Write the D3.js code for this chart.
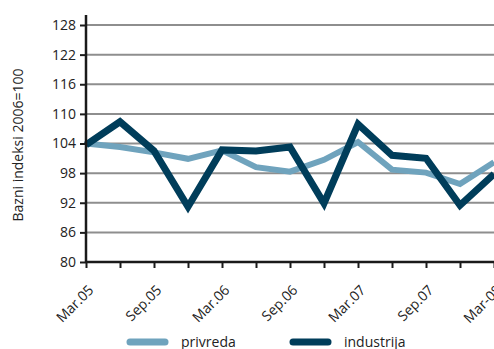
<!DOCTYPE html>
<html>
<head>
<meta charset="utf-8">
<script src="https://cdn.jsdelivr.net/npm/d3@7"></script>
<style>
  body { margin: 0; background: #fff; }
  svg { display: block; font-family: "Open Sans", sans-serif; }
</style>
</head>
<body>
<svg width="494" height="349"></svg>
<script>
var quarters = ["Mar.05", "Jun.05", "Sep.05", "Dec.05", "Mar.06", "Jun.06", "Sep.06",
                "Dec.06", "Mar.07", "Jun.07", "Sep.07", "Dec.07", "Mar-08"];
var tickLabels = ["Mar.05", "Sep.05", "Mar.06", "Sep.06", "Mar.07", "Sep.07", "Mar-08"];
var privreda = [104, 103.3, 102.2, 100.9, 102.6, 99.2, 98.3, 100.7, 104.3, 98.7, 98.1, 95.8, 100.2];
var industrija = [103.7, 108.4, 102.5, 91.2, 102.7, 102.5, 103.3, 91.9, 107.9, 101.6, 101, 91.5, 97.8];
var yTicks = [80, 86, 92, 98, 104, 110, 116, 122, 128];

var svg = d3.select("svg"),
    x0 = 86, x1 = 494, yTop = 25, yBottom = 262;

var x = d3.scalePoint()
    .domain(quarters)
    .range([x0, x1]);

var y = d3.scaleLinear()
    .domain([80, 128])
    .range([yBottom, yTop]);

// grid
svg.append("g")
  .selectAll("line")
    .data(yTicks.slice(1))
  .enter().append("line")
    .attr("x1", x0).attr("x2", x1)
    .attr("y1", function(d) { return y(d); })
    .attr("y2", function(d) { return y(d); })
    .style("stroke", "#8e8e8e")
    .style("stroke-width", 2);

var line = d3.line()
    .x(function(d, i) { return x(quarters[i]); })
    .y(function(d) { return y(d); });

svg.append("path")
    .datum(privreda)
    .attr("d", line)
    .style("fill", "none")
    .style("stroke", "#6fa3bd")
    .style("stroke-width", 6)
    .style("stroke-linejoin", "miter");

svg.append("path")
    .datum(industrija)
    .attr("d", line)
    .style("fill", "none")
    .style("stroke", "#003d5a")
    .style("stroke-width", 7)
    .style("stroke-linejoin", "miter");

// y axis
var yAxis = svg.append("g")
    .attr("transform", "translate(" + x0 + ",0)")
    .call(d3.axisLeft(y).tickValues(yTicks).tickSize(6).tickPadding(4));

yAxis.select(".domain").attr("d", "M0," + (yTop - 10) + "V" + yBottom)
    .style("stroke", "#1a1a1a").style("stroke-width", 2.5);

// x axis
var xAxis = svg.append("g")
    .attr("transform", "translate(0," + yBottom + ")")
    .call(d3.axisBottom(x).tickSize(6).tickFormat(function(d) {
      return tickLabels.indexOf(d) >= 0 ? d : "";
    }));

xAxis.select(".domain").attr("d", "M" + x0 + ",0H" + x1)
    .style("stroke", "#1a1a1a").style("stroke-width", 2.5);

svg.selectAll(".tick line").style("stroke", "#1a1a1a").style("stroke-width", 2);
svg.selectAll(".tick text").style("font-size", "14px").style("fill", "#222")
    .style("font-family", "Open Sans, sans-serif");

xAxis.selectAll(".tick text")
    .attr("text-anchor", "end")
    .attr("y", 0).attr("dx", 0).attr("dy", 0)
    .attr("transform", "translate(8,29) rotate(-45)");

// y label
svg.append("text")
    .attr("transform", "translate(23,145) rotate(-90)")
    .attr("text-anchor", "middle")
    .style("font-size", "14px")
    .style("fill", "#222")
    .text("Bazni indeksi 2006=100");

// legend
var legend = [
  {name: "privreda", color: "#6fa3bd", x: 130},
  {name: "industrija", color: "#003d5a", x: 293}
];
var lg = svg.append("g").selectAll("g")
    .data(legend)
  .enter().append("g")
    .attr("transform", function(d) { return "translate(" + d.x + ",342)"; });

lg.append("line")
    .attr("x1", 0).attr("x2", 35)
    .style("stroke", function(d) { return d.color; })
    .style("stroke-width", 7)
    .style("stroke-linecap", "round");

lg.append("text")
    .attr("x", 51).attr("dy", "0.35em")
    .style("font-size", "14px")
    .style("fill", "#222")
    .text(function(d) { return d.name; });
</script>
</body>
</html>
